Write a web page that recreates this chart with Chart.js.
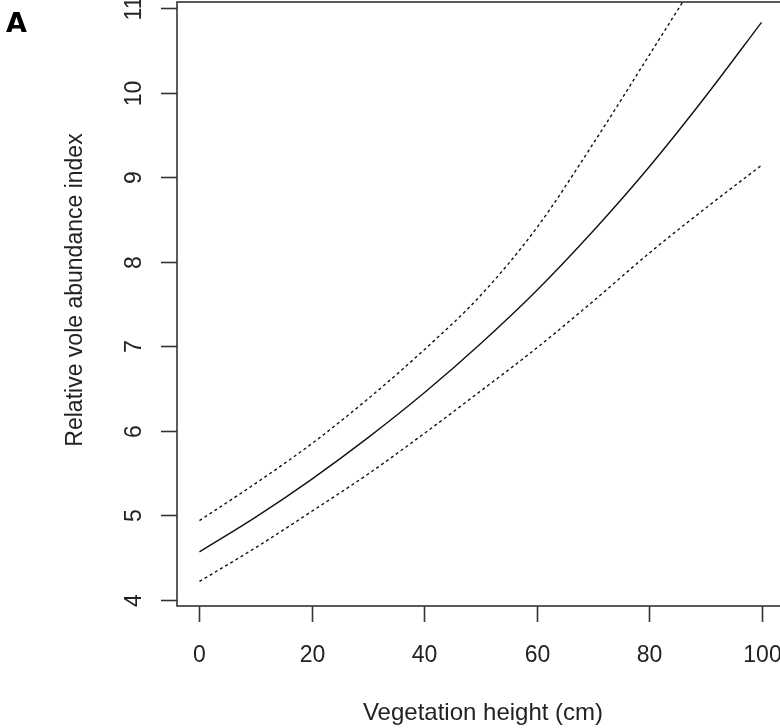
<!DOCTYPE html>
<html>
<head>
<meta charset="utf-8">
<script src="https://cdn.jsdelivr.net/npm/chart.js@4/dist/chart.umd.min.js"></script>
<style>
  html, body { margin: 0; padding: 0; background: #fff; overflow: hidden; }
  #wrap { width: 790px; height: 728px; }
</style>
</head>
<body>
<div id="wrap"><canvas id="voleChart" width="790" height="728"></canvas></div>
<script>
// vegetation height (cm)
const heights = [0, 10, 20, 30, 40, 50, 60, 70, 80, 90, 100];
// fitted relative vole abundance
const fitted = [4.57, 4.98, 5.43, 5.92, 6.45, 7.03, 7.66, 8.36, 9.12, 9.95, 10.83];
// upper and lower confidence bands
const upper = [4.94, 5.38, 5.85, 6.38, 6.96, 7.60, 8.40, 9.39, 10.44, 11.5, 12.6];
const lower = [4.22, 4.62, 5.05, 5.49, 5.97, 6.47, 6.98, 7.53, 8.10, 8.63, 9.14];

const xTicks = [0, 20, 40, 60, 80, 100];
const yTicks = [4, 5, 6, 7, 8, 9, 10, 11];

const toPoints = (vals) => heights.map((h, i) => ({ x: h, y: vals[i] }));

const FONT = '"Liberation Sans", Arial, sans-serif';
const TXT = '#222';

// R style axes + box, drawn by hand
const baseAxes = {
  id: 'baseAxes',
  afterDraw(chart) {
    const ctx = chart.ctx;
    const area = chart.chartArea;
    const xs = chart.scales.x;
    const ys = chart.scales.y;
    ctx.save();

    ctx.strokeStyle = '#333';
    ctx.lineWidth = 1.6;
    ctx.strokeRect(area.left, area.top, area.right - area.left, area.bottom - area.top);

    ctx.fillStyle = TXT;
    ctx.font = '23px ' + FONT;

    // x ticks
    xTicks.forEach((t) => {
      const px = Math.round(xs.getPixelForValue(t)) + 0.5;
      ctx.beginPath();
      ctx.moveTo(px, area.bottom);
      ctx.lineTo(px, area.bottom + 16);
      ctx.stroke();
      ctx.textAlign = 'center';
      ctx.textBaseline = 'alphabetic';
      ctx.fillText(String(t), px, 662);
    });

    // y ticks, labels turned like in R
    yTicks.forEach((t) => {
      const py = Math.round(ys.getPixelForValue(t)) + 0.5;
      ctx.beginPath();
      ctx.moveTo(area.left - 16, py);
      ctx.lineTo(area.left, py);
      ctx.stroke();
      ctx.save();
      ctx.translate(141, py);
      ctx.rotate(-Math.PI / 2);
      ctx.textAlign = 'center';
      ctx.textBaseline = 'alphabetic';
      ctx.fillText(String(t), 0, 0);
      ctx.restore();
    });

    // axis titles
    ctx.textAlign = 'center';
    ctx.textBaseline = 'alphabetic';
    ctx.font = '24px ' + FONT;
    ctx.fillText('Vegetation height (cm)', 483, 720);

    ctx.font = '23px ' + FONT;
    ctx.save();
    ctx.translate(82, 290);
    ctx.rotate(-Math.PI / 2);
    ctx.fillText('Relative vole abundance index', 0, 0);
    ctx.restore();

    // panel letter
    ctx.font = 'bold 27px "DejaVu Sans", ' + FONT;
    ctx.fillStyle = '#000';
    ctx.textAlign = 'left';
    ctx.fillText('A', 6, 32);

    ctx.restore();
  }
};

new Chart(document.getElementById('voleChart'), {
  type: 'line',
  data: {
    datasets: [
      {
        label: 'fitted',
        data: toPoints(fitted),
        borderColor: '#111',
        borderWidth: 1.4,
        pointRadius: 0,
        cubicInterpolationMode: 'monotone',
      },
      {
        label: 'upper',
        data: toPoints(upper),
        borderColor: '#111',
        borderWidth: 1.4,
        borderDash: [3, 3],
        pointRadius: 0,
        cubicInterpolationMode: 'monotone',
      },
      {
        label: 'lower',
        data: toPoints(lower),
        borderColor: '#111',
        borderWidth: 1.4,
        borderDash: [3, 3],
        pointRadius: 0,
        cubicInterpolationMode: 'monotone',
      },
    ],
  },
  options: {
    responsive: false,
    animation: false,
    layout: { padding: { left: 177, top: 2, right: 6, bottom: 122 } },
    plugins: {
      legend: { display: false },
      tooltip: { enabled: false },
    },
    scales: {
      x: { type: 'linear', min: -4, max: 104, display: false },
      y: { type: 'linear', min: 3.93, max: 11.07, display: false },
    },
  },
  plugins: [baseAxes],
});
</script>
</body>
</html>
